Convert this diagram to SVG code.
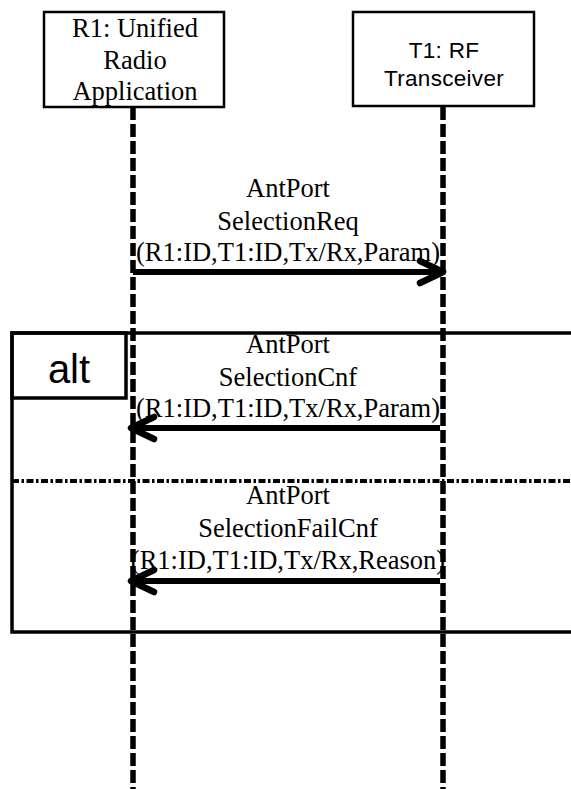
<svg xmlns="http://www.w3.org/2000/svg" width="571" height="789" viewBox="0 0 571 789">
<style>
.box{fill:#fff;stroke:#000;stroke-width:2.5}
.serif{font-family:"Liberation Serif","Times New Roman",serif;font-size:26.5px;fill:#000;text-anchor:middle}
.sans{font-family:"Liberation Sans",Arial,sans-serif;fill:#000;text-anchor:middle}
.life{stroke:#000;stroke-width:5.5;stroke-dasharray:13 4;fill:none}
.msg{stroke:#000;stroke-width:6;fill:none}
.frame{stroke:#000;stroke-width:3.5;fill:none}
</style>
<defs>
<marker id="arr" markerUnits="userSpaceOnUse" markerWidth="40" markerHeight="40" viewBox="-30 -20 40 40" refX="0" refY="0" orient="auto" overflow="visible">
<path d="M-23,-11 L0,0 L-23,11" fill="none" stroke="#000" stroke-width="6.5" stroke-linecap="round" stroke-linejoin="round"/>
</marker>
</defs>
<g id="lifelines">
<line class="life" x1="133" y1="107" x2="133" y2="789"/>
<line class="life" x1="443" y1="107" x2="443" y2="789"/>
</g>
<g id="R1">
<rect class="box" x="44" y="12" width="180" height="95"/>
<text class="serif" x="135" y="37">R1: Unified</text>
<text class="serif" x="135" y="69">Radio</text>
<text class="serif" x="135" y="100">Application</text>
</g>
<g id="T1">
<rect class="box" x="353" y="12" width="181" height="94"/>
<text class="sans" x="444" y="58" font-size="22.5" letter-spacing="0.3">T1: RF</text>
<text class="sans" x="444" y="86" font-size="22.5" letter-spacing="0.3">Transceiver</text>
</g>
<g id="alt-frame">
<path class="frame" d="M575,333 H12 V632 H575"/>
<rect class="frame" x="12" y="333" width="114" height="65" stroke-width="3"/>
<text class="sans" x="69" y="383" font-size="40">alt</text>
<line x1="12" y1="481" x2="571" y2="481" stroke="#000" stroke-width="4" stroke-dasharray="7 2.5 2.5 2.5"/>
</g>
<g id="connectors">
<line class="msg" x1="133" y1="272" x2="443" y2="272" marker-end="url(#arr)"/>
<line class="msg" x1="440" y1="428" x2="131" y2="428" marker-end="url(#arr)"/>
<line class="msg" x1="440" y1="581" x2="131" y2="581" marker-end="url(#arr)"/>
</g>
<g id="labels">
<text class="serif" x="288" y="197">AntPort</text>
<text class="serif" x="288" y="230">SelectionReq</text>
<text class="serif" x="288" y="261">(R1:ID,T1:ID,Tx/Rx,Param)</text>
<text class="serif" x="288" y="353">AntPort</text>
<text class="serif" x="288" y="386">SelectionCnf</text>
<text class="serif" x="288" y="417">(R1:ID,T1:ID,Tx/Rx,Param)</text>
<text class="serif" x="288" y="504">AntPort</text>
<text class="serif" x="288" y="537">SelectionFailCnf</text>
<text class="serif" x="288" y="569">(R1:ID,T1:ID,Tx/Rx,Reason)</text>
</g>
</svg>
